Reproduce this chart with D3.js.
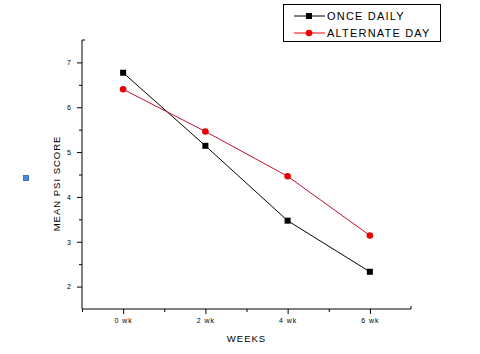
<!DOCTYPE html>
<html lang="en">
<head>
    <meta charset="UTF-8">
    <title>Mean PSI score</title>
    <script src="https://d3js.org/d3.v7.min.js"></script>
    <style>
        body { margin: 0; background: #fff; }
        text { font-family: "Liberation Sans", Arial, sans-serif; fill: #000; }
        .tick text { font-size: 7px; letter-spacing: 1px; }
        .axis-title { font-size: 9.5px; letter-spacing: 1px; }
        .legend text { font-size: 11px; letter-spacing: 1.2px; }
    </style>
</head>
<body>
    <svg width="480" height="354"></svg>
    <script>
        // data
        const weeks = [0, 2, 4, 6];
        const weekLabels = ["0 wk", "2 wk", "4 wk", "6 wk"];
        const onceDaily = [6.77, 5.14, 3.47, 2.33];
        const alternateDay = [6.40, 5.46, 4.46, 3.14];
        const seriesNames = ["ONCE DAILY", "ALTERNATE DAY"];
        const yTicks = [2, 3, 4, 5, 6, 7];

        const svg = d3.select("svg");
        const margin = {left: 82, right: 69, top: 40, bottom: 45};
        const width = 480, height = 354;

        const x = d3.scaleLinear().domain([-1, 7]).range([margin.left, width - margin.right]);
        const y = d3.scaleLinear().domain([1.5, 7.5]).range([height - margin.bottom, margin.top]);

        // minor ticks first
        svg.append("g")
            .attr("transform", `translate(0,${y(1.5)})`)
            .call(d3.axisBottom(x).tickValues([-1, 1, 3, 5]).tickSize(3).tickFormat(""))
            .call(g => g.select(".domain").remove());
        svg.append("g")
            .attr("transform", `translate(${x(-1)},0)`)
            .call(d3.axisLeft(y).tickValues([2.5, 3.5, 4.5, 5.5, 6.5]).tickSize(3).tickFormat(""))
            .call(g => g.select(".domain").remove());

        // x axis
        svg.append("g")
            .attr("transform", `translate(0,${y(1.5)})`)
            .call(d3.axisBottom(x).tickValues(weeks).tickSize(5).tickPadding(4)
                .tickFormat((d, i) => weekLabels[i]))
            .call(g => g.select(".domain").attr("d", `M${x(-1)},0H${x(7)}V-3`));

        // y axis
        svg.append("g")
            .attr("transform", `translate(${x(-1)},0)`)
            .call(d3.axisLeft(y).tickValues(yTicks).tickSize(5).tickPadding(5).tickFormat(d3.format("d")))
            .call(g => g.select(".domain").attr("d", `M0,${y(1.5)}V${y(7.5)}H3`));

        svg.selectAll(".domain, .tick line").attr("stroke", "#000");

        svg.append("text").attr("class", "axis-title")
            .attr("x", x(3)).attr("y", 342)
            .attr("text-anchor", "middle").text("WEEKS");

        svg.append("text").attr("class", "axis-title")
            .attr("transform", `translate(60,${y(4.3)}) rotate(-90)`)
            .attr("text-anchor", "middle").text("MEAN PSI SCORE");

        const line = d3.line().x((d, i) => x(weeks[i])).y(d => y(d));

        // once daily: black squares
        svg.append("path").datum(onceDaily)
            .attr("fill", "none").attr("stroke", "#000").attr("stroke-width", 1)
            .attr("d", line);
        svg.selectAll(".sq").data(onceDaily).join("rect")
            .attr("x", (d, i) => x(weeks[i]) - 3).attr("y", d => y(d) - 3)
            .attr("width", 6).attr("height", 6).attr("fill", "#000");

        // alternate day: red circles
        svg.append("path").datum(alternateDay)
            .attr("fill", "none").attr("stroke", "#c0102a").attr("stroke-width", 1)
            .attr("d", line);
        svg.selectAll(".dot").data(alternateDay).join("circle")
            .attr("cx", (d, i) => x(weeks[i])).attr("cy", d => y(d))
            .attr("r", 3.3).attr("fill", "#ee0000");

        // legend
        const legend = svg.append("g").attr("class", "legend");
        legend.append("rect")
            .attr("x", 283.5).attr("y", 4.5).attr("width", 157).attr("height", 37)
            .attr("fill", "#fff").attr("stroke", "#000");
        const rowY = [16, 33];
        legend.append("line").attr("x1", 294).attr("x2", 325).attr("y1", rowY[0]).attr("y2", rowY[0])
            .attr("stroke", "#000");
        legend.append("rect").attr("x", 306).attr("y", rowY[0] - 3).attr("width", 6).attr("height", 6)
            .attr("fill", "#000");
        legend.append("line").attr("x1", 294).attr("x2", 325).attr("y1", rowY[1]).attr("y2", rowY[1])
            .attr("stroke", "#ee0000");
        legend.append("circle").attr("cx", 309).attr("cy", rowY[1]).attr("r", 3.3)
            .attr("fill", "#ee0000");
        legend.selectAll(".lbl").data(seriesNames).join("text")
            .attr("x", 327).attr("y", (d, i) => rowY[i] + 4).text(d => d);

        // stray blue marker at left
        svg.append("rect").attr("x", 23.5).attr("y", 175.5).attr("width", 5).attr("height", 5)
            .attr("fill", "#4a8ae0").attr("stroke", "#2f5f9e").attr("stroke-width", 0.8);
    </script>
</body>
</html>
